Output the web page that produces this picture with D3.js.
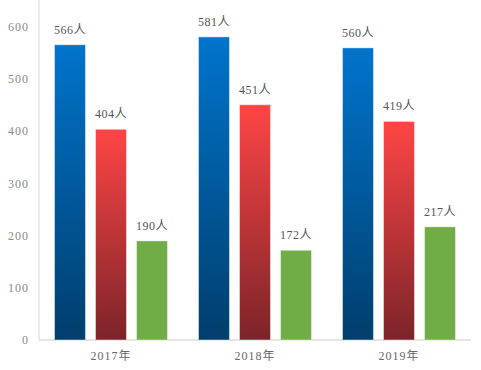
<!DOCTYPE html>
<html>
<head>
<meta charset="utf-8">
<script src="https://cdn.jsdelivr.net/npm/d3@7"></script>
<style>
  body { margin: 0; background: #fff; }
  text { font-family: "Liberation Serif", "DejaVu Serif", "Noto Sans CJK SC", serif; }
</style>
</head>
<body>
<div id="chart"></div>
<script>
var years = ["2017年", "2018年", "2019年"];
var seriesA = [566, 581, 560];
var seriesB = [404, 451, 419];
var seriesC = [190, 172, 217];
var yTicks = [0, 100, 200, 300, 400, 500, 600];

var width = 481, height = 370;
var margin = {top: 0, left: 39, right: 10, bottom: 30};

var svg = d3.select("#chart").append("svg")
    .attr("width", width)
    .attr("height", height);

var defs = svg.append("defs");
function grad(id, top, bottom) {
    var g = defs.append("linearGradient")
	.attr("id", id)
	.attr("x1", 0).attr("y1", 0).attr("x2", 0).attr("y2", 1);
    g.append("stop").attr("offset", "0%").attr("stop-color", top);
    g.append("stop").attr("offset", "100%").attr("stop-color", bottom);
}
grad("gBlue", "#0074CC", "#003E6C");
grad("gRed", "#FF4545", "#7B2429");

var series = [
    {values: seriesA, fill: "url(#gBlue)", fixed: true},
    {values: seriesB, fill: "url(#gRed)", fixed: true},
    {values: seriesC, fill: "#70AD47", fixed: false}
];

var y = d3.scaleLinear().domain([0, 600]).range([340, 27]);
var x0 = d3.scaleBand().domain(years).range([margin.left, width - margin.right]).paddingInner(0).paddingOuter(0);
var x1 = d3.scaleBand().domain(d3.range(3)).range([15.5, x0.bandwidth() - 15.5]).paddingInner(0.245).paddingOuter(0);

// axes lines
svg.append("line")
    .attr("x1", margin.left).attr("x2", margin.left)
    .attr("y1", 0).attr("y2", y(0))
    .attr("stroke", "#e3e3e3").attr("stroke-width", 1.5);
svg.append("line")
    .attr("x1", margin.left).attr("x2", width - margin.right)
    .attr("y1", y(0)).attr("y2", y(0))
    .attr("stroke", "#dcdcdc").attr("stroke-width", 1.5);

// y tick labels
svg.selectAll(".ytick")
    .data(yTicks)
    .enter().append("text")
    .attr("class", "ytick")
    .attr("x", 29)
    .attr("y", function(d) { return y(d) + 4; })
    .attr("text-anchor", "end")
    .attr("fill", "#8a8a8a")
    .attr("font-size", 12)
    .attr("letter-spacing", 1)
    .text(function(d) { return d; });

// category labels
svg.selectAll(".xtick")
    .data(years)
    .enter().append("text")
    .attr("class", "xtick")
    .attr("x", function(d) { return x0(d) + x0.bandwidth() / 2; })
    .attr("y", 360)
    .attr("text-anchor", "middle")
    .attr("fill", "#6a6a6a")
    .attr("font-size", 12)
    .attr("letter-spacing", 1)
    .text(function(d) { return d; });

// bars
series.forEach(function(s, si) {
    var g = svg.append("g");
    g.selectAll("rect")
	.data(s.values)
	.enter().append("rect")
	.attr("x", function(d, i) { return x0(years[i]) + x1(si); })
	.attr("y", function(d) { return y(d); })
	.attr("width", x1.bandwidth())
	.attr("height", function(d) { return y(0) - y(d); })
	.attr("fill", s.fill)
	.attr("stroke", "rgba(255,255,255,0.45)")
	.attr("stroke-width", 1);
    g.selectAll("text")
	.data(s.values)
	.enter().append("text")
	.attr("x", function(d, i) { return x0(years[i]) + x1(si) + x1.bandwidth() / 2; })
	.attr("y", function(d) { return y(d) - 11; })
	.attr("text-anchor", "middle")
	.attr("fill", "#555")
	.attr("font-size", 12)
	.attr("letter-spacing", 0.5)
	.text(function(d) { return d + "人"; });
});
</script>
</body>
</html>
